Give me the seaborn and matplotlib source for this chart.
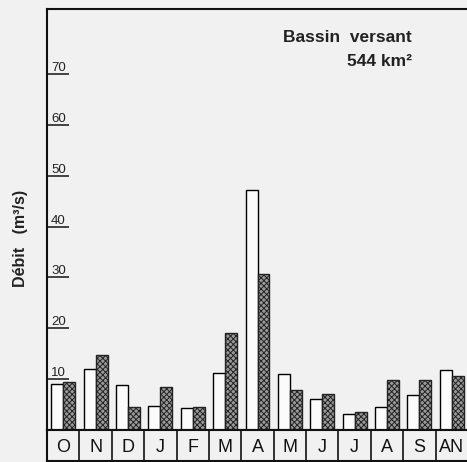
import matplotlib
matplotlib.use("Agg")
import matplotlib.pyplot as plt
import seaborn as sns
import numpy as np
import pandas as pd

months = ["O", "N", "D", "J", "F", "M", "A", "M", "J", "J", "A", "S", "AN"]
serie_a = [9.0, 12.0, 8.8, 4.8, 4.3, 11.2, 47.3, 11.1, 6.1, 3.2, 4.5, 6.9, 11.8]
serie_b = [9.4, 14.8, 4.6, 8.5, 4.6, 19.1, 30.7, 7.8, 7.1, 3.6, 9.9, 9.9, 10.6]
series_names = ["A", "B"]
yticks = [10, 20, 30, 40, 50, 60, 70]

sns.set_theme(style="white")
plt.rcParams["font.family"] = ["Liberation Sans", "DejaVu Sans"]
plt.rcParams["hatch.linewidth"] = 0.7

bg = "#f1f1f1"
slot = [f"{i}" for i in range(len(months))]
df = pd.DataFrame({
    "slot": slot * 2,
    "serie": [series_names[0]] * len(months) + [series_names[1]] * len(months),
    "val": serie_a + serie_b,
})

fig = plt.figure(figsize=(4.67, 4.62), dpi=100, facecolor=bg)
ax = fig.add_axes([47 / 467, 1 - 430 / 462, 421 / 467, 421 / 462], facecolor=bg)
ax2 = fig.add_axes([47 / 467, 1 - 461 / 462, 421 / 467, 31 / 462], facecolor=bg)

sns.barplot(data=df, x="slot", y="val", hue="serie", order=slot,
            hue_order=series_names, palette=["#fbfbfb", "#9a9a9a"],
            width=0.74, edgecolor="black", linewidth=1.0, legend=False,
            ax=ax)
for p in ax.containers[1]:
    p.set_hatch("xxxxxx")
    p.set_edgecolor("#222222")

ax.set_xlim(-0.5, len(months) - 0.5)
ax.set_ylim(0, 82.8)
ax.set_yticks(yticks)
ax.set_yticklabels([str(t) for t in yticks], ha="left", va="bottom",
                   fontsize=9.5, color="#222222")
ax.tick_params(axis="y", direction="in", length=16, width=1.2, pad=-3, left=True)
ax.tick_params(axis="x", bottom=False, labelbottom=False)
ax.set_xlabel("")
ax.set_ylabel("Débit   (m³/s)", fontsize=11.5, fontweight="bold", color="#222222")
ax.yaxis.set_label_coords(-0.045, 0.456)
for s in ["left", "top", "bottom"]:
    ax.spines[s].set_visible(True)
    ax.spines[s].set_color("#111111")
    ax.spines[s].set_linewidth(1.5)
ax.spines["right"].set_visible(False)

ax.text(0.867, 0.9216, "Bassin  versant", transform=ax.transAxes, ha="right",
        va="baseline", fontsize=12.5, fontweight="bold", color="#222222")
ax.text(0.867, 0.8646, "544 km²", transform=ax.transAxes, ha="right",
        va="baseline", fontsize=12.5, fontweight="bold", color="#222222")

ax2.set_xlim(-0.5, len(months) - 0.5)
ax2.set_ylim(0, 1)
ax2.vlines(np.arange(len(months) + 1) - 0.5, 0, 1, color="#111111", linewidth=1.2)
for i, m in enumerate(months):
    ax2.text(i, 0.45, m, ha="center", va="center", fontsize=13, color="#111111")
ax2.set_xticks([])
ax2.set_yticks([])
for s in ax2.spines.values():
    s.set_visible(True)
    s.set_color("#111111")
    s.set_linewidth(1.5)
ax2.spines["right"].set_visible(False)

fig.savefig("out.png", dpi=100, facecolor=bg)
